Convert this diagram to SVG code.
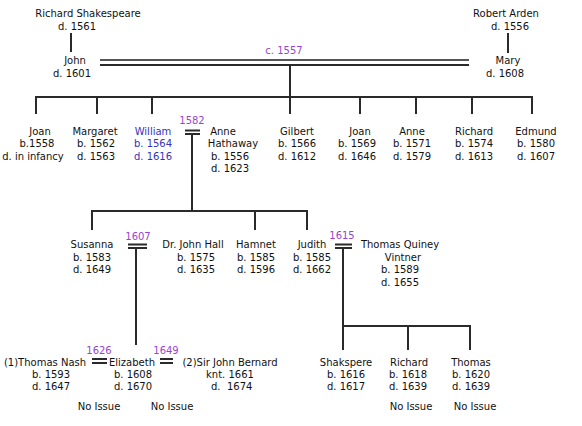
<svg xmlns="http://www.w3.org/2000/svg" width="582" height="426" viewBox="0 0 582 426">
<style>
text{font-family:"DejaVu Sans",Verdana,sans-serif;font-size:10px;fill:#111;text-anchor:middle}
.d{fill:#9944cc;font-size:10px}
.w{fill:#3333bb}
.ln{stroke:#2a2a2a;stroke-width:2;fill:none}
.lt{stroke:#555;stroke-width:2;fill:none}
</style>
<rect width="582" height="426" fill="#fff"/>
<g id="connectors">
<line class="ln" x1="71" y1="33" x2="71" y2="52"/>
<line class="ln" x1="508" y1="33" x2="508" y2="53"/>
<line class="lt" x1="100" y1="60" x2="469" y2="60"/>
<line class="ln" x1="100" y1="65" x2="469" y2="65"/>
<line class="ln" x1="290" y1="65" x2="290" y2="97"/>
<line class="ln" x1="35" y1="97" x2="533" y2="97"/>
<path class="ln" d="M36 97V114M97 97V114M152 97V114M290 97V114M360 97V114M416 97V114M472 97V114M532 97V114"/>
<path class="ln" d="M185 130.5H200M185 134H200M192 134V211"/>
<line class="ln" x1="91" y1="211" x2="308" y2="211"/>
<path class="ln" d="M92 211V230M255 211V230M307 211V230"/>
<path class="ln" d="M128 244.5H147M128 248H147M136 248V345"/>
<path class="ln" d="M335 244.5H352M335 248H352M343 248V350"/>
<line class="ln" x1="343" y1="326" x2="471" y2="326"/>
<path class="ln" d="M408 326V350M470 326V350"/>
<path class="ln" d="M92 359H107M92 363H107"/>
<path class="ln" d="M160 359H173M160 363H173"/>
</g>
<g id="m1557"><text class="d" x="284" y="54">c. 1557</text></g>
<g id="m1582"><text class="d" x="192" y="124">1582</text></g>
<g id="m1607"><text class="d" x="138" y="240">1607</text></g>
<g id="m1615"><text class="d" x="342" y="239">1615</text></g>
<g id="m1626"><text class="d" x="99" y="354">1626</text></g>
<g id="m1649"><text class="d" x="166" y="354">1649</text></g>
<g id="richard-shakespeare"><text x="88" y="17">Richard Shakespeare</text><text x="77" y="30">d. 1561</text></g>
<g id="john"><text x="75" y="64">John</text><text x="72" y="77">d. 1601</text></g>
<g id="robert-arden"><text x="506" y="17">Robert Arden</text><text x="510" y="30">d. 1556</text></g>
<g id="mary"><text x="508" y="64">Mary</text><text x="505" y="77">d. 1608</text></g>
<g id="joan1"><text x="40" y="135">Joan</text><text x="37" y="147">b.1558</text><text x="33" y="160">d. in infancy</text></g>
<g id="margaret"><text x="95" y="135">Margaret</text><text x="96" y="147">b. 1562</text><text x="96" y="160">d. 1563</text></g>
<g id="william"><text class="w" x="153" y="135">William</text><text class="w" x="153" y="147">b. 1564</text><text class="w" x="153" y="160">d. 1616</text></g>
<g id="anne-hathaway"><text x="223" y="135">Anne</text><text x="233" y="147">Hathaway</text><text x="230" y="160">b. 1556</text><text x="230" y="172">d. 1623</text></g>
<g id="gilbert"><text x="297" y="135">Gilbert</text><text x="297" y="147">b. 1566</text><text x="297" y="160">d. 1612</text></g>
<g id="joan2"><text x="360" y="135">Joan</text><text x="357" y="147">b. 1569</text><text x="357" y="160">d. 1646</text></g>
<g id="anne"><text x="412" y="135">Anne</text><text x="412" y="147">b. 1571</text><text x="412" y="160">d. 1579</text></g>
<g id="richard"><text x="474" y="135">Richard</text><text x="474" y="147">b. 1574</text><text x="474" y="160">d. 1613</text></g>
<g id="edmund"><text x="536" y="135">Edmund</text><text x="536" y="147">b. 1580</text><text x="536" y="160">d. 1607</text></g>
<g id="susanna"><text x="92" y="248">Susanna</text><text x="92" y="261">b. 1583</text><text x="92" y="273">d. 1649</text></g>
<g id="john-hall"><text x="193" y="248">Dr. John Hall</text><text x="196" y="261">b. 1575</text><text x="196" y="273">d. 1635</text></g>
<g id="hamnet"><text x="256" y="248">Hamnet</text><text x="256" y="261">b. 1585</text><text x="256" y="273">d. 1596</text></g>
<g id="judith"><text x="312" y="248">Judith</text><text x="312" y="261">b. 1585</text><text x="312" y="273">d. 1662</text></g>
<g id="thomas-quiney"><text x="400" y="248">Thomas Quiney</text><text x="403" y="261">Vintner</text><text x="400" y="273">b. 1589</text><text x="400" y="286">d. 1655</text></g>
<g id="thomas-nash"><text x="45" y="366">(1)Thomas Nash</text><text x="51" y="378">b. 1593</text><text x="51" y="390">d. 1647</text></g>
<g id="elizabeth"><text x="132" y="366">Elizabeth</text><text x="133" y="378">b. 1608</text><text x="133" y="390">d. 1670</text></g>
<g id="john-bernard"><text x="230" y="366">(2)Sir John Bernard</text><text x="230" y="378">knt. 1661</text><text x="211" y="390" style="text-anchor:start">d.</text><text x="227" y="390" style="text-anchor:start">1674</text></g>
<g id="no-issue-1"><text x="99" y="410">No Issue</text></g>
<g id="no-issue-2"><text x="172" y="410">No Issue</text></g>
<g id="shakspere"><text x="346" y="366">Shakspere</text><text x="346" y="378">b. 1616</text><text x="346" y="390">d. 1617</text></g>
<g id="richard3"><text x="409" y="366">Richard</text><text x="408" y="378">b. 1618</text><text x="408" y="390">d. 1639</text></g>
<g id="thomas"><text x="471" y="366">Thomas</text><text x="471" y="378">b. 1620</text><text x="471" y="390">d. 1639</text></g>
<g id="no-issue-3"><text x="411" y="410">No Issue</text></g>
<g id="no-issue-4"><text x="475" y="410">No Issue</text></g>
</svg>
